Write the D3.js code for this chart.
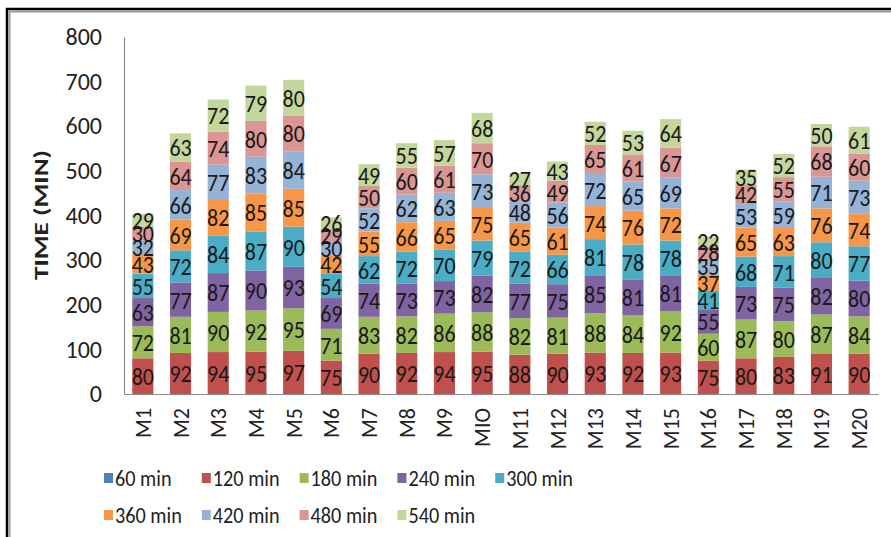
<!DOCTYPE html>
<html>
<head>
<meta charset="utf-8">
<script src="https://cdn.jsdelivr.net/npm/d3@7"></script>
<style>
  html, body { margin: 0; padding: 0; background: #fff; }
  svg text { font-family: Carlito, Lato, "Open Sans", sans-serif; }
</style>
</head>
<body>
<svg id="chart" width="891" height="537"></svg>
<script>
// Machines along the x axis
const machines = ["M1","M2","M3","M4","M5","M6","M7","M8","M9","MIO",
                  "M11","M12","M13","M14","M15","M16","M17","M18","M19","M20"];

// Time series names (legend order, stack order bottom to top)
const seriesNames = ["60 min","120 min","180 min","240 min","300 min",
                     "360 min","420 min","480 min","540 min"];

const seriesColors = ["#4F81BD","#C0504D","#9BBB59","#8064A2","#4BACC6",
                      "#F79646","#95B3D7","#D99694","#C3D69B"];

// One array per series, one value per machine
const v60  = [0,0,0,0,0,0,0,0,0,0,0,0,0,0,0,0,0,0,0,0];
const v120 = [80,92,94,95,97,75,90,92,94,95,88,90,93,92,93,75,80,83,91,90];
const v180 = [72,81,90,92,95,71,83,82,86,88,82,81,88,84,92,60,87,80,87,84];
const v240 = [63,77,87,90,93,69,74,73,73,82,77,75,85,81,81,55,73,75,82,80];
const v300 = [55,72,84,87,90,54,62,72,70,79,72,66,81,78,78,41,68,71,80,77];
const v360 = [43,69,82,85,85,42,55,66,65,75,65,61,74,76,72,37,65,63,76,74];
const v420 = [32,66,77,83,84,30,52,62,63,73,48,56,72,65,69,35,53,59,71,73];
const v480 = [30,64,74,80,80,29,50,60,61,70,36,49,65,61,67,28,42,55,68,60];
const v540 = [29,63,72,79,80,26,49,55,57,68,27,43,52,53,64,22,35,52,50,61];

const yTicks = [0,100,200,300,400,500,600,700,800];

const allSeries = [v60,v120,v180,v240,v300,v360,v420,v480,v540];

// Build the row table for d3.stack
const rows = machines.map((m, i) => {
  const r = { machine: m };
  seriesNames.forEach((s, k) => { r[s] = allSeries[k][i]; });
  return r;
});

const svg = d3.select("#chart");

// Outer frame (top and left edges visible)
svg.append("path")
  .attr("d", "M7,537 L7,9 L891,9")
  .attr("fill", "none").attr("stroke", "#000").attr("stroke-width", 2.5);
svg.append("path")
  .attr("d", "M9.5,537 L9.5,11.5 L891,11.5")
  .attr("fill", "none").attr("stroke", "#999").attr("stroke-width", 2);

const plot = { left: 124, right: 878, top: 37, bottom: 394 };

const x = d3.scaleBand()
  .domain(machines)
  .range([plot.left, plot.right])
  .paddingInner(0.44)
  .paddingOuter(0.22);

const y = d3.scaleLinear()
  .domain([0, 800])
  .range([plot.bottom, plot.top]);

const stack = d3.stack().keys(seriesNames);
const layers = stack(rows);

// Bars
const layerG = svg.append("g").selectAll("g")
  .data(layers)
  .join("g")
  .attr("fill", (d, i) => seriesColors[i]);

layerG.selectAll("rect")
  .data(d => d)
  .join("rect")
  .attr("x", d => x(d.data.machine))
  .attr("width", x.bandwidth())
  .attr("y", d => y(d[1]))
  .attr("height", d => y(d[0]) - y(d[1]));

// Data labels centered in each segment
const labelG = svg.append("g");
layers.forEach((layer) => {
  layer.forEach(d => {
    const val = d[1] - d[0];
    if (val <= 0) return;
    const cx = x(d.data.machine) + x.bandwidth() / 2;
    const cy = (y(d[0]) + y(d[1])) / 2;
    labelG.append("text")
      .attr("transform", `translate(${cx},${cy}) scale(1,1.12)`)
      .attr("text-anchor", "middle")
      .attr("dy", "0.36em")
      .attr("font-size", 22)
      .attr("fill", "#1a1a1a")
      .text(val);
  });
});

// Y axis
const yAxis = d3.axisLeft(y).tickValues(yTicks).tickSize(0).tickPadding(22);
const yAxisG = svg.append("g")
  .attr("transform", `translate(${plot.left},0)`)
  .call(yAxis);
yAxisG.select(".domain").attr("stroke", "#8c8c8c").attr("stroke-width", 1.2);
yAxisG.selectAll("text")
  .attr("font-size", 24)
  .attr("fill", "#222")
  .attr("font-family", "Carlito, Lato, sans-serif");

// X axis
const xAxis = d3.axisBottom(x).tickSize(0).tickPadding(0);
const xAxisG = svg.append("g")
  .attr("transform", `translate(0,${plot.bottom})`)
  .call(xAxis);
xAxisG.select(".domain").attr("stroke", "#8c8c8c").attr("stroke-width", 1.2);
xAxisG.selectAll("text")
  .attr("font-size", 22)
  .attr("fill", "#222")
  .attr("font-family", "Carlito, Lato, sans-serif")
  .attr("text-anchor", "end")
  .attr("dy", null)
  .attr("y", 0)
  .attr("transform", "translate(8,14) rotate(-90)");

// Y axis title
svg.append("text")
  .attr("transform", "translate(40,215) rotate(-90) scale(1.3,1)")
  .attr("text-anchor", "middle")
  .attr("dy", "0.36em")
  .attr("font-size", 21)
  .attr("font-weight", "bold")
  .attr("fill", "#222")
  .text("TIME (MIN)");

// Legend: two rows, five columns
const legendG = svg.append("g");
seriesNames.forEach((s, i) => {
  const col = i % 5, row = Math.floor(i / 5);
  const gx = 104 + col * 97.8;
  const gy = 478 + row * 37;
  const g = legendG.append("g").attr("transform", `translate(${gx},${gy})`);
  g.append("rect")
    .attr("x", 0).attr("y", -5)
    .attr("width", 9).attr("height", 10)
    .attr("fill", seriesColors[i]);
  g.append("text")
    .attr("transform", "translate(11,0) scale(0.92,1.05)")
    .attr("dy", "0.36em")
    .attr("font-size", 22)
    .attr("fill", "#222")
    .text(s);
});
</script>
</body>
</html>
